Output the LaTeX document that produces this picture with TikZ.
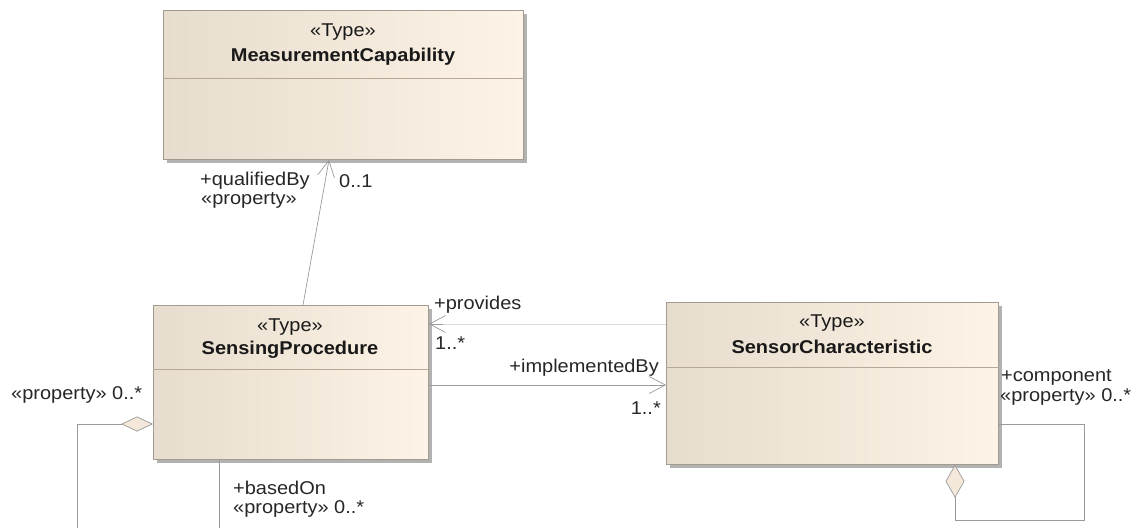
\documentclass[tikz,border=0pt]{standalone}
\usepackage{fontspec}
\setmainfont{Liberation Sans}[FakeStretch=1.08]
\usetikzlibrary{arrows.meta,shadows,calc}
\definecolor{boxL}{HTML}{E7DDCE}
\definecolor{boxR}{HTML}{FDF3E6}
\definecolor{boxline}{HTML}{A39B92}
\definecolor{sepline}{HTML}{B5A898}
\definecolor{conn}{HTML}{9A9A9A}
\definecolor{connlight}{HTML}{DADADA}
\definecolor{diafill}{HTML}{F3E8DA}
\tikzset{
  umlbox/.style={rectangle, draw=boxline, line width=0.8pt, left color=boxL, right color=boxR,
    general shadow={fill=black!30, shadow xshift=4pt, shadow yshift=-4pt}, inner sep=0pt, anchor=north west},
  sepl/.style={draw=sepline, line width=0.8pt},
  stereo/.style={font=\fontsize{18.5}{21}\selectfont, inner sep=0pt, text=black!90},
  cname/.style={font=\fontsize{18.5}{21}\selectfont\bfseries, inner sep=0pt, text=black!90},
  lbl/.style={font=\fontsize{18.5}{21}\selectfont, inner sep=0pt, text=black!85},
  assoc/.style={draw=conn, line width=0.7pt},
  opentip/.style={-{Straight Barb[length=16pt,width=17pt,line width=0.7pt]}},
  aggtip/.style={{Diamond[open,fill=diafill,length=32pt,width=15pt,line width=0.7pt]}-},
  aggtipv/.style={{Diamond[open,fill=diafill,length=33pt,width=19pt,line width=0.7pt]}-}
}
\begin{document}
\begin{tikzpicture}[x=1pt,y=-1pt]
\useasboundingbox (0,0) rectangle (1134,527);
% boxes
\node[umlbox, minimum width=360pt, minimum height=149pt] (mc) at (163,10) {};
\node[umlbox, minimum width=275pt, minimum height=154pt] (sp) at (153,305) {};
\node[umlbox, minimum width=332pt, minimum height=162pt] (sc) at (666,302) {};
% separators
\draw[sepl] ($(mc.north west)+(0,68)$) -- ($(mc.north east)+(0,68)$);
\draw[sepl] ($(sp.north west)+(0,64)$) -- ($(sp.north east)+(0,64)$);
\draw[sepl] ($(sc.north west)+(0,65)$) -- ($(sc.north east)+(0,65)$);
% titles
\node[stereo] (mcst) at (343,32) {«Type»};
\node[cname] (mcnm) at (343,57) {MeasurementCapability};
\node[stereo] (spst) at (290,327) {«Type»};
\node[cname] (spnm) at (290,350) {SensingProcedure};
\node[stereo] (scst) at (832,323) {«Type»};
\node[cname] (scnm) at (832,347) {SensorCharacteristic};
% qualifiedBy
\draw[assoc, opentip] ($(sp.north west)+(150,0)$) -- ($(mc.south west)+(166,0)$);
\node[lbl, anchor=west] (q1) at (200,181) {+qualifiedBy};
\node[lbl, anchor=west] (q2) at (201,200) {«property»};
\node[lbl, anchor=west] (q3) at (339,181) {0..1};
% provides
\draw[draw=connlight, line width=0.7pt] ($(sc.north west)+(0,22)$) -- ($(sp.north east)+(14,19)$);
\draw[draw=conn, line width=0.7pt, opentip] ($(sp.north east)+(14,19)$) -- ($(sp.north east)+(0,19)$);
\node[lbl, anchor=west] (p1) at (434,305) {+provides};
\node[lbl, anchor=west] (p2) at (435,343) {1..*};
% implementedBy
\draw[assoc, opentip] ($(sp.north east)+(0,80)$) -- ($(sc.north west)+(0,83)$);
\node[lbl, anchor=east] (i1) at (659,368) {+implementedBy};
\node[lbl, anchor=east] (i2) at (661,408) {1..*};
% SensingProcedure aggregation to the left
\coordinate (spl1) at (77,424);
\coordinate (spl2) at (77,530);
\draw[assoc, aggtip] ($(sp.north west)+(0,119)$) -- (spl1) -- (spl2);
\node[lbl, anchor=west] (a1) at (11,395) {«property» 0..*};
% basedOn
\coordinate (bo) at (219,530);
\draw[assoc] ($(sp.south west)+(66,0)$) -- (bo);
\node[lbl, anchor=west] (b1) at (233,488) {+basedOn};
\node[lbl, anchor=west] (b2) at (233,509) {«property» 0..*};
% SensorCharacteristic self aggregation
\coordinate (c1) at (955,520);
\coordinate (c2) at (1084,520);
\coordinate (c3) at (1084,424);
\draw[assoc, aggtipv] ($(sc.south west)+(289,0)$) -- (c1) -- (c2) -- (c3) -- ($(sc.north east)+(0,122)$);
\node[lbl, anchor=west] (k1) at (1001,377) {+component};
\node[lbl, anchor=west] (k2) at (1000,397) {«property» 0..*};
\end{tikzpicture}
\end{document}
